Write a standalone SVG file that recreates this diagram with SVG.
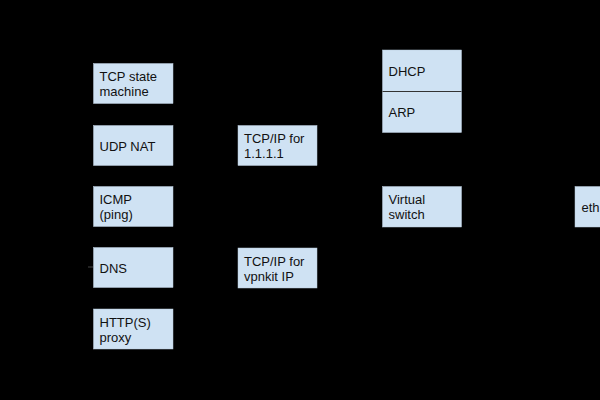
<svg xmlns="http://www.w3.org/2000/svg" width="600" height="400" viewBox="0 0 600 400">
<style>
.box{fill:#cfe2f3;stroke:#b8c9da;stroke-width:0.5}
.t{font-family:"Liberation Sans",Arial,sans-serif;font-size:13px;fill:#111}
.c{stroke:#000;stroke-width:1;fill:none}
</style>
<rect x="0" y="0" width="600" height="400" fill="#000"/>
<g id="connectors">
<line class="c" x1="88" y1="267" x2="93" y2="267" style="stroke:#444"/>
</g>
<g id="tcp-state"><rect class="box" x="93.5" y="63.5" width="79.5" height="40"/><text class="t" x="99.5" y="80.7">TCP state</text><text class="t" x="99.5" y="95.7">machine</text></g>
<g id="udp-nat"><rect class="box" x="93.5" y="125.5" width="79.5" height="40"/><text class="t" x="99.5" y="150.5">UDP NAT</text></g>
<g id="icmp"><rect class="box" x="93.5" y="186.5" width="79.5" height="40"/><text class="t" x="99.5" y="204.2">ICMP</text><text class="t" x="99.5" y="219.2">(ping)</text></g>
<g id="dns"><rect class="box" x="93.5" y="247.5" width="79.5" height="40"/><text class="t" x="99.5" y="272.5">DNS</text></g>
<g id="http-proxy"><rect class="box" x="93.5" y="309" width="79.5" height="40"/><text class="t" x="99.5" y="326.7">HTTP(S)</text><text class="t" x="99.5" y="341.7">proxy</text></g>
<g id="tcpip-1111"><rect class="box" x="238" y="125.5" width="79" height="40"/><text class="t" x="244" y="143.2">TCP/IP for</text><text class="t" x="244" y="158.2">1.1.1.1</text></g>
<g id="tcpip-vpnkit"><rect class="box" x="238" y="248" width="79" height="40"/><text class="t" x="244" y="265.7">TCP/IP for</text><text class="t" x="244" y="280.7">vpnkit IP</text></g>
<g id="dhcp-arp"><rect class="box" x="382.5" y="50" width="79" height="82.5"/><line x1="382.5" y1="91.5" x2="461.5" y2="91.5" stroke="#333" stroke-width="1"/><text class="t" x="388.5" y="76">DHCP</text><text class="t" x="388.5" y="117">ARP</text></g>
<g id="virtual-switch"><rect class="box" x="382.5" y="186.5" width="79" height="40.5"/><text class="t" x="388.5" y="204.4">Virtual</text><text class="t" x="388.5" y="219.4">switch</text></g>
<g id="ethernet"><rect class="box" x="575" y="186.5" width="40" height="40.5"/><text class="t" x="581.5" y="212">eth</text></g>
</svg>
